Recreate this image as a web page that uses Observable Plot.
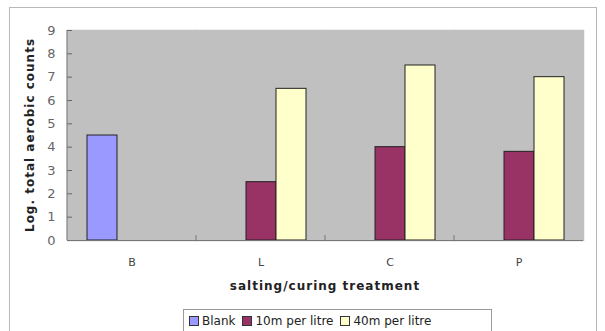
<!DOCTYPE html>
<html>
<head>
<meta charset="utf-8">
<script src="https://cdn.jsdelivr.net/npm/d3@7"></script>
<script src="https://cdn.jsdelivr.net/npm/@observablehq/plot@0.6"></script>
<style>
  html, body { margin: 0; padding: 0; background: #fff; }
  #wrap { position: relative; width: 605px; height: 331px; overflow: hidden; font-family: "DejaVu Sans", sans-serif; }
  #border { position: absolute; left: 9px; top: 7px; width: 588px; height: 330px; border: 1px solid #b8b8b8; box-sizing: border-box; }
  #chart { position: absolute; left: 0; top: 0; }
  #legend { position: absolute; left: 183px; top: 309px; width: 309px; height: 26px; border: 1px solid #9a9a9a; box-sizing: border-box; display: flex; align-items: flex-start; padding: 4px 0 0 5px; font-size: 12px; color: #222; }
  .item { display: flex; align-items: center; margin-right: 7px; white-space: nowrap; }
  .sw { width: 8px; height: 8px; border: 1px solid #333; margin-right: 3px; }
</style>
</head>
<body>
<div id="wrap">
  <div id="border"></div>
  <div id="chart"></div>
  <div id="legend"></div>
</div>
<script>
const categories = ["B", "L", "C", "P"];
const seriesNames = ["Blank", "10m per litre", "40m per litre"];
const seriesColors = ["#9999ff", "#993366", "#ffffcc"];
const blankValues = [4.5, null, null, null];
const m10Values = [null, 2.5, 4.0, 3.8];
const m40Values = [null, 6.5, 7.5, 7.0];
const yTicks = [0, 1, 2, 3, 4, 5, 6, 7, 8, 9];

const seriesValues = [blankValues, m10Values, m40Values];
const data = [];
seriesNames.forEach((s, si) => {
  categories.forEach((c, ci) => {
    const v = seriesValues[si][ci];
    if (v != null) data.push({category: c, series: s, value: v});
  });
});

const plot = Plot.plot({
  width: 605,
  height: 331,
  marginLeft: 67,
  marginRight: 22,
  marginTop: 30,
  marginBottom: 91,
  style: {fontFamily: "DejaVu Sans, sans-serif", fontSize: "11px", background: "transparent", overflow: "visible"},
  fx: {domain: categories, paddingInner: 0, paddingOuter: 0, label: null},
  x: {domain: seriesNames, paddingInner: 0, paddingOuter: 0.64, axis: null},
  y: {domain: [0, 9], ticks: yTicks, label: null},
  color: {domain: seriesNames, range: seriesColors},
  marks: [
    Plot.frame({fill: "#c0c0c0", stroke: "#c0c0c0", strokeWidth: 1.5}),
    Plot.barY(data, {fx: "category", x: "series", y: "value", fill: "series", stroke: "#222", strokeWidth: 1}),
    Plot.axisY({ticks: yTicks, tickSize: -5, tickPadding: 17, stroke: "#666", color: "#666", fontSize: 13}),
    Plot.axisFx({anchor: "bottom", tickSize: 0, tickPadding: 18, color: "#444", fontSize: 11, label: null}),
    Plot.ruleY([0], {stroke: "#777"})
  ]
});
document.getElementById("chart").appendChild(plot);

// Category boundary ticks and left axis line, from Plot's own scales
const fx = plot.scale("fx");
const yScale = plot.scale("y");
const svg = d3.select(plot);
const y0 = yScale.apply(0);
const yTop = yScale.apply(9);
const xLeft = fx.apply(categories[0]);
svg.append("line").attr("x1", xLeft).attr("x2", xLeft).attr("y1", y0).attr("y2", yTop).attr("stroke", "#777");
categories.slice(1).forEach(c => {
  const xb = fx.apply(c);
  svg.append("line").attr("x1", xb).attr("x2", xb).attr("y1", y0).attr("y2", y0 - 5).attr("stroke", "#777");
});
// Axis titles
const xMid = (fx.apply(categories[0]) + fx.apply(categories[categories.length - 1]) + fx.bandwidth) / 2;
svg.append("text").attr("x", xMid).attr("y", 290).attr("text-anchor", "middle")
  .attr("font-weight", "bold").attr("font-size", 12).attr("letter-spacing", "1px").attr("fill", "#222")
  .text("salting/curing treatment");
const yMid = (y0 + yTop) / 2;
svg.append("text").attr("transform", `translate(34,${yMid}) rotate(-90)`).attr("text-anchor", "middle")
  .attr("font-weight", "bold").attr("font-size", 12).attr("letter-spacing", "1px").attr("fill", "#222")
  .text("Log. total aerobic counts");

const legend = document.getElementById("legend");
seriesNames.forEach((s, i) => {
  const it = document.createElement("div");
  it.className = "item";
  const sw = document.createElement("div");
  sw.className = "sw";
  sw.style.background = seriesColors[i];
  it.appendChild(sw);
  it.appendChild(document.createTextNode(s));
  legend.appendChild(it);
});
</script>
</body>
</html>
